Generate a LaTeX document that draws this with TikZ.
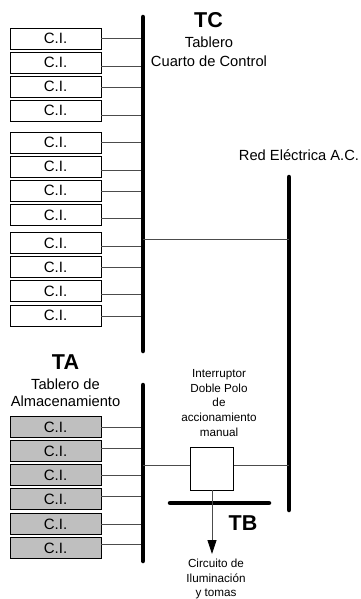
\documentclass[tikz,border=0pt]{standalone}
\usepackage{fontspec}
\setmainfont{Liberation Sans}
\usetikzlibrary{arrows.meta}

\tikzset{
    breaker/.style={shape=rectangle,draw=black,fill=#1,minimum width=91pt,minimum height=21pt,inner sep=0pt,font=\fontsize{15}{15}\selectfont},
    bus/.style={line width=4.5pt,line cap=round},
    feeder/.style={draw=black!70,line width=0.8pt},
    lbl/.style={align=center,inner sep=0pt,font=\fontsize{14.7}{18.5}\selectfont},
    small/.style={align=center,inner sep=0pt,font=\fontsize{11.7}{14.7}\selectfont},
    title/.style={inner sep=0pt,font=\fontsize{21.5}{21.5}\selectfont\bfseries},
}

\begin{document}
\begin{tikzpicture}[x=1pt,y=-1pt]
    \useasboundingbox (0,0) rectangle (360,599);

    % barras
    \coordinate (TCtop) at (143,17);
    \coordinate (TCbot) at (143,351);
    \coordinate (TAtop) at (143,385);
    \coordinate (TAbot) at (143,561);
    \coordinate (REDtop) at (289,177);
    \coordinate (REDbot) at (289,510);
    \coordinate (TBl) at (170,503);
    \coordinate (TBr) at (269,503);

    % tablero TC
    \foreach \name/\ypos/\yline in {1/38.5/38.5,2/62.5/66,3/86.5/87,4/110.5/115,5/142.5/142,6/166.5/170,7/190.5/191,8/215/218.7,9/243/246,10/267/267,11/291/294.7,12/315.5/316}{
        \node[breaker=white] (C\name) at (55.5,\ypos) {C.I.};
        \coordinate (P\name) at (143,\yline);
        \draw[feeder] (C\name.east |- P\name) -- (P\name);
    }

    % tablero TA
    \foreach \name/\ypos/\yline in {1/427/427,2/451/448,3/475/475,4/499/496,5/524/524,6/548/544}{
        \node[breaker=black!25] (A\name) at (55.5,\ypos) {C.I.};
        \coordinate (Q\name) at (143,\yline);
        \draw[feeder] (A\name.east |- Q\name) -- (Q\name);
    }

    \draw[bus] (TCtop) -- (TCbot);
    \draw[bus] (TAtop) -- (TAbot);
    \draw[bus] (REDtop) -- (REDbot);
    \draw[bus] (TBl) -- (TBr);

    % interruptor
    \node[shape=rectangle,draw=black,fill=white,minimum width=43pt,minimum height=43pt,inner sep=0pt] (SW) at (212,468.5) {};
    \coordinate (TCred) at (143,239);
    \coordinate (REDtc) at (289,239);
    \coordinate (TAsw) at (143,465);
    \coordinate (REDsw) at (289,465);
    \coordinate (LOAD) at (212,554);
    \draw[feeder] (TCred) -- (REDtc);
    \draw[feeder] (TAsw) -- (SW.west |- TAsw);
    \draw[feeder] (SW.east |- REDsw) -- (REDsw);
    \draw[feeder,-{Triangle[length=14pt,width=9pt,color=black]}] (SW.south) -- (LOAD);

    % textos
    \node[title] (TC) at (208.5,20) {TC};
    \node[lbl] (TClabel) at (209,51.5) {Tablero\\Cuarto de Control};
    \node[lbl] (REDlabel) at (299,155) {Red Eléctrica A.C.};
    \node[title] (TA) at (65.5,362) {TA};
    \node[lbl] (TAlabel) at (65.5,393) {Tablero de\\[-1.5pt]Almacenamiento};
    \node[title] (TB) at (243,523) {TB};
    \node[small] (SWlabel) at (219,403) {Interruptor\\Doble Polo\\de\\accionamiento\\manual};
    \node[small] (LOADlabel) at (216,579) {Circuito de\\Iluminación\\y tomas};
\end{tikzpicture}
\end{document}
